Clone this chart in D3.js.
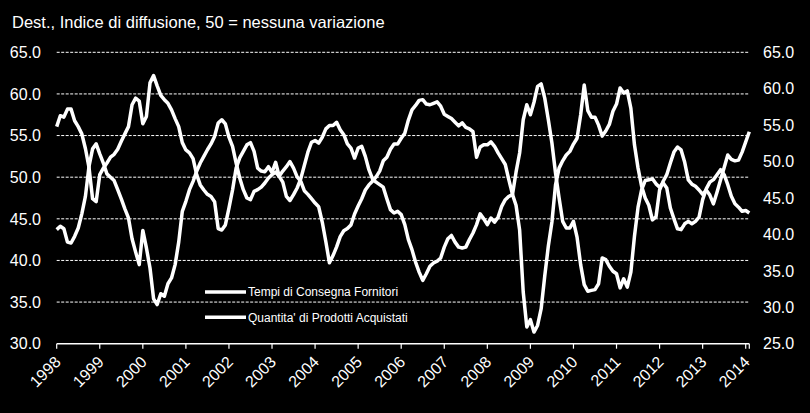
<!DOCTYPE html>
<html><head><meta charset="utf-8">
<script src="https://cdn.jsdelivr.net/npm/d3@7"></script>
<style>
html,body{margin:0;padding:0;background:#000;}
svg{display:block;}
text{font-family:"Liberation Sans",Arial,sans-serif;fill:#fff;}
</style></head>
<body>
<svg id="c" width="810" height="413"></svg>
<script>
// Monthly data, Jan 1998 .. Feb 2014 (194 months)
const startYear = 1998;
const yearLabels = ["1998","1999","2000","2001","2002","2003","2004","2005","2006","2007","2008","2009","2010","2011","2012","2013","2014"];
const leftTicks = [30,35,40,45,50,55,60,65];
const rightTicks = [25,30,35,40,45,50,55,60,65];
const seriesNames = ["Tempi di Consegna Fornitori","Quantita' di Prodotti Acquistati"];
const title = "Dest., Indice di diffusione, 50 = nessuna variazione";

// Tempi di Consegna Fornitori (left axis)
const tempi = [
43.7,44.1,43.8,42.2,42.1,42.9,43.9,45.6,47.7,51.3,53.4,54.0,
52.8,51.7,50.4,50.0,49.6,48.5,47.4,46.2,45.1,42.6,41.0,39.5,
43.6,41.5,39.1,35.4,34.7,36.0,35.7,37.2,37.9,39.5,42.2,45.9,
47.1,48.5,49.5,50.7,51.7,52.5,53.3,54.0,54.9,56.5,56.9,56.4,
54.8,53.7,51.7,49.9,48.5,47.5,47.3,48.3,48.5,48.8,49.3,49.9,
50.3,50.6,50.1,49.4,47.7,47.2,47.9,48.7,49.8,51.4,53.0,54.2,
54.4,54.1,54.8,55.8,56.2,56.2,56.6,55.7,55.1,54.0,53.5,52.3,
53.5,53.7,52.5,50.9,49.8,49.4,49.1,48.8,47.4,46.1,45.7,45.9,
45.5,44.3,42.5,41.3,39.8,38.6,37.6,38.4,39.3,39.7,39.9,40.3,
41.6,42.6,43.0,42.2,41.6,41.5,41.6,42.5,43.3,44.3,45.6,45.0,
44.3,45.1,44.6,45.2,46.5,47.3,47.7,47.9,50.6,52.9,56.9,58.7,
57.5,59.0,60.9,61.2,59.5,56.9,54.1,50.5,47.5,44.7,43.9,43.9,
44.7,42.8,39.5,37.1,36.3,36.4,36.5,37.2,40.3,40.1,39.3,38.7,
38.4,36.7,37.8,36.8,38.6,42.9,46.4,48.5,49.6,49.7,49.8,49.2,
48.8,49.3,48.7,46.3,45.0,43.8,43.7,44.4,44.7,44.4,44.7,45.2,
47.3,48.6,49.4,49.7,50.3,50.9,50.3,49.1,47.7,46.8,46.4,45.9,
46.0,45.7];

// Quantita' di Prodotti Acquistati (right axis)
const quantita = [
54.8,56.3,56.1,57.2,57.2,55.6,54.8,53.8,51.8,49.2,44.9,44.5,
48.2,49.1,49.8,50.6,51.0,51.7,52.8,53.8,54.8,57.8,58.7,58.3,
55.2,56.2,60.8,61.8,60.4,59.1,58.5,58.0,57.1,55.9,54.8,52.6,
51.6,51.2,50.4,48.2,46.8,46.1,45.5,45.2,44.5,40.8,40.6,41.3,
43.6,46.1,49.1,50.5,51.4,52.3,52.6,51.4,49.1,48.7,48.6,49.3,
48.5,49.9,48.0,48.7,49.3,50.0,49.1,47.9,47.3,46.0,45.5,44.9,
44.3,43.8,41.7,39.0,36.1,37.1,38.3,39.7,40.5,40.8,41.3,42.8,
43.9,44.9,46.1,46.8,47.3,47.9,48.7,50.1,50.6,51.7,52.4,52.4,
53.2,53.9,55.7,57.1,57.7,58.4,58.5,57.9,57.8,58.0,58.2,57.6,
56.5,56.2,55.9,55.4,54.9,55.3,54.7,54.5,54.1,50.6,52.0,52.3,
52.3,52.7,52.1,51.2,50.4,49.6,47.5,45.5,44.0,40.6,32.1,27.3,
28.3,26.6,27.5,29.8,34.3,38.4,41.7,46.8,49.1,50.1,50.9,51.4,
52.4,53.2,56.4,60.5,57.0,56.1,56.1,55.0,53.5,54.2,55.1,56.9,
57.9,60.1,59.4,59.7,57.3,52.3,49.1,46.6,45.0,44.0,42.0,42.4,
46.1,47.3,48.2,49.8,51.3,52.0,51.6,49.9,47.5,46.9,46.6,46.1,
45.5,46.1,45.4,44.2,45.8,47.5,49.2,50.9,50.3,50.1,50.2,51.3,
52.7,54.1];

const svg = d3.select("#c");
const L = 56.7, R = 749.3, T = 52.3, B = 343.7;
const n = tempi.length;
const x = d3.scaleLinear().domain([0, n - 1]).range([L, R]);
const yL = d3.scaleLinear().domain([30, 65]).range([B, T]);
const yR = d3.scaleLinear().domain([25, 65]).range([B, T]);

// title
svg.append("text").attr("x", 12).attr("y", 28).attr("font-size", 16.5).text(title);

// gridlines
svg.append("g").selectAll("line").data(leftTicks.filter(d => d > 30)).join("line")
  .attr("x1", L).attr("x2", R).attr("y1", d => yL(d)).attr("y2", d => yL(d))
  .attr("stroke", "#fff").attr("stroke-width", 1).attr("stroke-dasharray", "3,1.5");

// left labels
svg.append("g").selectAll("text").data(leftTicks).join("text")
  .attr("x", 41).attr("y", d => yL(d) + 5.7).attr("text-anchor", "end")
  .attr("font-size", 16).text(d => d3.format(".1f")(d));

// right labels
svg.append("g").selectAll("text").data(rightTicks).join("text")
  .attr("x", 763).attr("y", d => yR(d) + 5.7).attr("text-anchor", "start")
  .attr("font-size", 16).text(d => d3.format(".1f")(d));

// x axis
const xAxis = svg.append("g");
xAxis.append("line").attr("x1", L).attr("x2", R).attr("y1", B).attr("y2", B)
  .attr("stroke", "#fff").attr("stroke-width", 1.5);
const tickIdx = yearLabels.map((d, i) => i * 12);
xAxis.selectAll("line.t").data(tickIdx.concat([n - 1])).join("line").attr("class", "t")
  .attr("x1", d => x(d)).attr("x2", d => x(d)).attr("y1", B).attr("y2", B + 5)
  .attr("stroke", "#fff").attr("stroke-width", 1.2);
xAxis.selectAll("text").data(yearLabels).join("text")
  .attr("text-anchor", "end").attr("font-size", 16)
  .attr("transform", (d, i) => `translate(${x(i * 12) + 5},${363}) rotate(-45)`)
  .text(d => d);

// lines
const lineL = d3.line().x((d, i) => x(i)).y(d => yL(d));
const lineR = d3.line().x((d, i) => x(i)).y(d => yR(d));
svg.append("path").datum(tempi).attr("d", lineL).attr("fill", "none")
  .attr("stroke", "#fff").attr("stroke-width", 3.5).attr("stroke-linejoin", "round");
svg.append("path").datum(quantita).attr("d", lineR).attr("fill", "none")
  .attr("stroke", "#fff").attr("stroke-width", 3.5).attr("stroke-linejoin", "round");

// legend
const lg = svg.append("g");
[292, 317.3].forEach((yy, i) => {
  lg.append("line").attr("x1", 205).attr("x2", 246).attr("y1", yy).attr("y2", yy)
    .attr("stroke", "#fff").attr("stroke-width", 3.5);
  lg.append("text").attr("x", 248).attr("y", yy + 4.3).attr("font-size", 12).text(seriesNames[i]);
});
</script>
</body></html>
